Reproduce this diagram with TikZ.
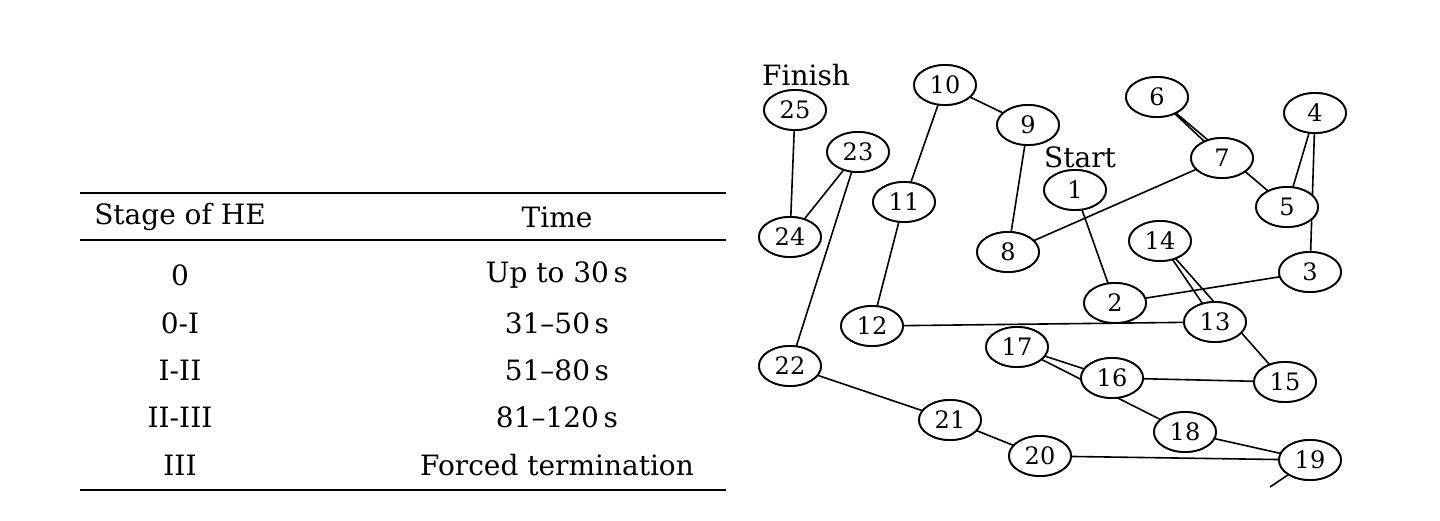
\documentclass[tikz,border=0pt]{standalone}
\usepackage{fontspec}
\setmainfont{DejaVu Serif}
\usetikzlibrary{shapes.geometric}
\begin{document}
\begin{tikzpicture}[x=1pt,y=-1pt,
  nd/.style={ellipse,draw,line width=1.8pt,minimum width=62pt,minimum height=40pt,inner sep=0pt,font=\fontsize{24}{26}\selectfont},
  ln/.style={line width=1.6pt},
  txt/.style={font=\fontsize{28}{30}\selectfont},
  rule/.style={line width=2pt}]
\useasboundingbox (0,0) rectangle (1440,521);
\foreach \n/\x/\y in {25/795/110,23/858/152,24/790/237,11/904/202,10/945/85,9/1028/125,1/1075/190,8/1008/252,6/1157/97,7/1222/158,4/1315/113,5/1287/207,14/1160/241,3/1310/272,2/1115/303,13/1215/322,12/872/326,17/1017/347,16/1112/378,15/1285/382,22/790/366,21/950/420,18/1185/432,20/1040/456,19/1310/460}
  \node[nd] (n\n) at (\x,\y) {\n};
\node[txt] (fin) at (806,75) {Finish};
\node[txt] (st) at (1080,157) {Start};
\coordinate (tail) at (1270,487);
\draw[ln] (n1.center) -- (n2.center) -- (n3.center) -- (n4.center) -- (n5.center) -- (n6.center) -- (n7.center) -- (n8.center) -- (n9.center) -- (n10.center) -- (n11.center) -- (n12.center) -- (n13.center) -- (n14.center) -- (n15.center) -- (n16.center) -- (n17.center) -- (n18.center) -- (n19.center) -- (n20.center) -- (n21.center) -- (n22.center) -- (n23.center) -- (n24.center) -- (n25.center);
\draw[ln] (n19.center) -- (tail);
\foreach \n in {1,...,25} \node[nd,fill=white] at (n\n) {\n};
% table
\coordinate (a1) at (80,193); \coordinate (b1) at (726,193);
\coordinate (a2) at (80,240); \coordinate (b2) at (726,240);
\coordinate (a3) at (80,490); \coordinate (b3) at (726,490);
\draw[rule] (a1) -- (b1); \draw[rule] (a2) -- (b2); \draw[rule] (a3) -- (b3);
\node[txt] (h1) at (180,217) {Stage of HE};
\node[txt] (h2) at (557,217) {Time};
\foreach \i/\s/\t/\y in {1/0/Up to 30\,s/275,2/0-I/31--50\,s/323,3/I-II/51--80\,s/370,4/II-III/81--120\,s/417,5/III/Forced termination/465}{
  \node[txt] (s\i) at (180,\y) {\s};
  \node[txt] (t\i) at (557,\y) {\t};}
\end{tikzpicture}
\end{document}
